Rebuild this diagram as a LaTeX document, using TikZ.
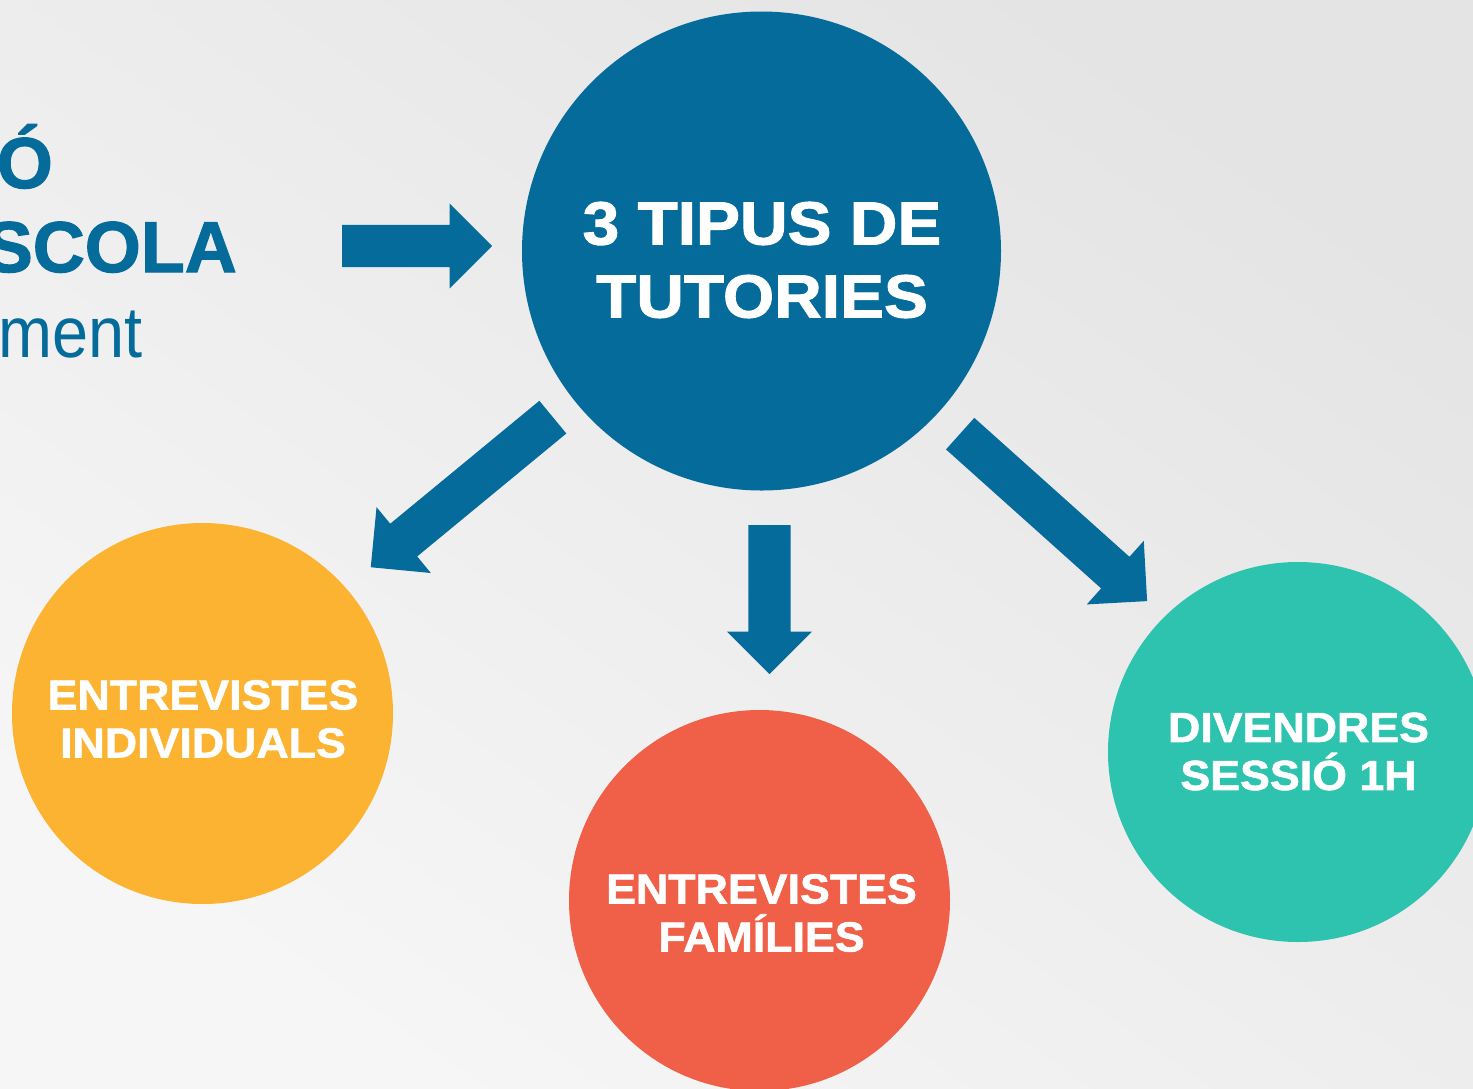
\documentclass[tikz,border=0pt]{standalone}
\usepackage{fontspec}
\setmainfont{Liberation Sans}
\newfontfamily\bigfont[FakeStretch=1.08,FakeBold=1.6]{Liberation Sans}
\newfontfamily\smallfont[FakeStretch=1.065,FakeBold=1.4]{Liberation Sans}
\newfontfamily\headfont[FakeBold=1.6]{Liberation Sans}
\newfontfamily\narrowfont[FakeStretch=0.9]{Liberation Sans}
\usetikzlibrary{shapes.arrows}
\definecolor{tblue}{RGB}{4,107,155}
\definecolor{torange}{RGB}{251,179,49}
\definecolor{tred}{RGB}{240,96,72}
\definecolor{tteal}{RGB}{45,195,174}
\definecolor{bgdark}{RGB}{228,228,228}
\definecolor{bglight}{RGB}{246,246,246}
\tikzset{
  bubble/.style={circle, inner sep=0pt, draw=none},
  bigtxt/.style={text=white, align=center, inner sep=0pt, font=\bigfont\bfseries\fontsize{61}{73}\selectfont},
  smalltxt/.style={text=white, align=center, inner sep=0pt, font=\smallfont\bfseries\fontsize{42}{48}\selectfont},
  titletxt/.style={text=tblue, inner sep=0pt, anchor=base east, font=\headfont\bfseries\fontsize{72}{80}\selectfont},
  subtxt/.style={text=tblue, inner sep=0pt, anchor=base east, font=\narrowfont\fontsize{72}{80}\selectfont},
  blockarrow/.style={single arrow, fill=tblue, draw=none, inner xsep=0pt, inner ysep=21pt,
    single arrow head extend=21.5pt, single arrow tip angle=90, minimum width=0pt, anchor=tail}
}
\begin{document}
\begin{tikzpicture}[x=1pt,y=-1pt]
\useasboundingbox (0,0) rectangle (1473,1088);
\clip (0,0) rectangle (1473,1088);
\shade[top color=bgdark, bottom color=bglight, shading angle=-35] (0,0) rectangle (1473,1088);

% left title (partly cut off at the left edge, as in the reference)
\node[titletxt] (t1) at (53,188) {Ó};
\node[titletxt] (t2) at (237,272) {SCOLA};
\node[subtxt] (t3) at (143,357) {ment};

% circles
\node[bubble, fill=tblue, minimum size=479pt] (main) at (761.5,251) {};
\node[bubble, fill=torange, minimum size=381pt] (ind) at (202.5,713.5) {};
\node[bubble, fill=tred, minimum size=381pt] (fam) at (759.5,900.5) {};
\node[bubble, fill=tteal, minimum size=380pt] (div) at (1298,752) {};

% texts
\node[bigtxt] (mainlbl) at (762,260) {3 TIPUS DE\\TUTORIES};
\node[smalltxt] (indlbl) at (203,719) {ENTREVISTES\\INDIVIDUALS};
\node[smalltxt] (famlbl) at (761.5,913) {ENTREVISTES\\FAMÍLIES};
\node[smalltxt] (divlbl) at (1298.5,751.5) {DIVENDRES\\SESSIÓ 1H};

% block arrows
\node[blockarrow, minimum height=150pt, rotate=0] (a0) at (342,246) {};
\node[blockarrow, minimum height=149pt, rotate=-90] (a2) at (769.5,525) {};
\node[blockarrow, minimum height=236pt, rotate=219.5] (a1) at (553,417) {};
\node[blockarrow, minimum height=251pt, rotate=-41.85] (a3) at (960,433.5) {};
\end{tikzpicture}
\end{document}
